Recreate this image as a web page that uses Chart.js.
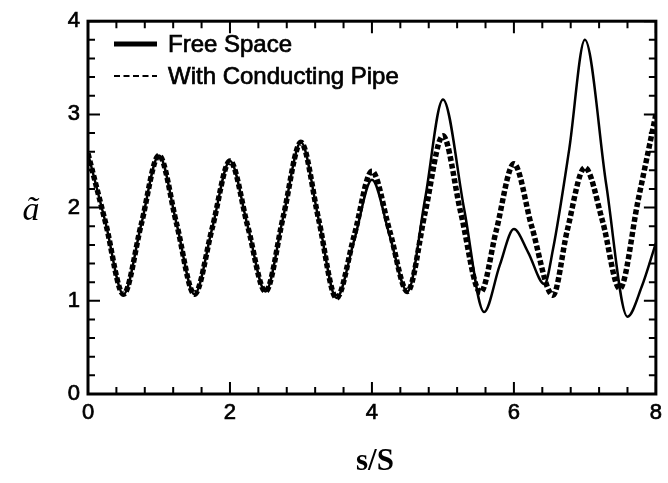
<!DOCTYPE html>
<html>
<head>
<meta charset="utf-8">
<script src="https://cdn.jsdelivr.net/npm/chart.js@4/dist/chart.umd.min.js"></script>
<style>
  html, body { margin: 0; padding: 0; background: #fff; }
  #plot { display: block; }
</style>
</head>
<body>
<canvas id="plot" width="668" height="483"></canvas>
<script>
// Values
const freeSpaceS = [0, 0.25, 0.5, 0.75, 1.0, 1.25, 1.5, 1.75, 2.0, 2.25, 2.5, 2.75, 3.0, 3.25, 3.5, 3.75,
  4.0, 4.25, 4.5, 4.75, 5.0, 5.3, 5.58, 5.8, 6.0, 6.2, 6.43, 6.55, 6.78, 7.0, 7.3, 7.6, 7.8, 8.0];
const freeSpaceA = [2.58, 1.83, 1.07, 1.82, 2.56, 1.82, 1.07, 1.78, 2.50, 1.80, 1.10, 1.90, 2.70, 1.87, 1.03, 1.65,
  2.30, 1.70, 1.10, 2.10, 3.16, 1.98, 0.88, 1.38, 1.77, 1.52, 1.18, 1.55, 2.63, 3.80, 2.25, 0.83, 1.15, 1.62];

const pipeS = [0, 0.25, 0.5, 0.75, 1.0, 1.25, 1.5, 1.75, 2.0, 2.25, 2.5, 2.75, 3.0, 3.25, 3.5, 3.75,
  4.0, 4.25, 4.5, 4.75, 5.0, 5.25, 5.53, 5.75, 6.0, 6.25, 6.55, 6.75, 7.0, 7.25, 7.49, 7.75, 8.0];
const pipeA = [2.58, 1.83, 1.07, 1.82, 2.56, 1.82, 1.07, 1.78, 2.50, 1.80, 1.10, 1.90, 2.70, 1.87, 1.03, 1.70,
  2.39, 1.75, 1.10, 1.95, 2.77, 1.95, 1.09, 1.75, 2.47, 1.80, 1.06, 1.75, 2.43, 1.85, 1.13, 2.08, 3.00];

const xTickLabels = ['0', '2', '4', '6', '8'];
const yTickLabels = ['0', '1', '2', '3', '4'];
const seriesNames = ['Free Space', 'With Conducting Pipe'];

const tickFont = { family: "'Liberation Sans', Arial, sans-serif", size: 22 };

function toPoints(xs, ys) {
  return xs.map((s, i) => ({ x: s, y: ys[i] }));
}

// label only the values listed in the tick label arrays, the rest are minor ticks
function isMajor(value, labels) {
  return labels.some(l => Math.abs(Number(l) - value) < 1e-6);
}

// Inward ticks on all four sides, the frame, the legend and both axis titles
const decorations = {
  id: 'decorations',
  afterDatasetsDraw(chart) {
    const { ctx, chartArea: a, scales: { x, y } } = chart;
    ctx.save();
    ctx.strokeStyle = '#000';
    ctx.lineWidth = 2;
    ctx.beginPath();
    x.ticks.forEach(t => {
      const px = x.getPixelForValue(t.value);
      const len = isMajor(t.value, xTickLabels) ? 12 : 7;
      ctx.moveTo(px, a.bottom); ctx.lineTo(px, a.bottom - len);
      ctx.moveTo(px, a.top); ctx.lineTo(px, a.top + len);
    });
    y.ticks.forEach(t => {
      const py = y.getPixelForValue(t.value);
      const len = isMajor(t.value, yTickLabels) ? 12 : 7;
      ctx.moveTo(a.left, py); ctx.lineTo(a.left + len, py);
      ctx.moveTo(a.right, py); ctx.lineTo(a.right - len, py);
    });
    ctx.stroke();

    ctx.lineWidth = 3;
    ctx.strokeRect(a.left, a.top, a.right - a.left, a.bottom - a.top);

    // legend
    ctx.lineWidth = 5;
    ctx.beginPath(); ctx.moveTo(114, 44); ctx.lineTo(157, 44); ctx.stroke();
    ctx.lineWidth = 2.2;
    ctx.setLineDash([6, 3.5]);
    ctx.beginPath(); ctx.moveTo(114, 76); ctx.lineTo(157, 76); ctx.stroke();
    ctx.setLineDash([]);
    ctx.fillStyle = '#000';
    ctx.lineWidth = 0.7;
    ctx.font = "24px 'Liberation Sans', Arial, sans-serif";
    ctx.textBaseline = 'middle';
    ctx.textAlign = 'left';
    ctx.fillText(seriesNames[0], 168, 45);
    ctx.strokeText(seriesNames[0], 168, 45);
    ctx.fillText(seriesNames[1], 168, 77);
    ctx.strokeText(seriesNames[1], 168, 77);

    // axis titles
    ctx.textAlign = 'center';
    ctx.font = "bold 31px 'Liberation Serif', 'Times New Roman', serif";
    ctx.fillText('s/S', 375, 462);
    ctx.font = "italic 34px 'Liberation Serif', 'Times New Roman', serif";
    ctx.fillText('ã', 31, 211);
    ctx.restore();
  }
};

new Chart(document.getElementById('plot'), {
  type: 'line',
  data: {
    datasets: [
      {
        label: seriesNames[0],
        data: toPoints(freeSpaceS, freeSpaceA),
        borderColor: '#000',
        borderWidth: 2.5,
        pointRadius: 0,
        cubicInterpolationMode: 'monotone',
        fill: false
      },
      {
        label: seriesNames[1],
        data: toPoints(pipeS, pipeA),
        borderColor: '#000',
        borderWidth: 5.5,
        borderDash: [5, 2.5],
        pointRadius: 0,
        cubicInterpolationMode: 'monotone',
        fill: false
      }
    ]
  },
  options: {
    responsive: false,
    devicePixelRatio: 1,
    animation: false,
    layout: { padding: { left: 0, top: 8, right: 3, bottom: 0 } },
    plugins: {
      legend: { display: false },
      tooltip: { enabled: false }
    },
    scales: {
      x: {
        type: 'linear',
        min: 0,
        max: 8,
        grid: { display: false, drawTicks: false },
        border: { display: false },
        ticks: {
          stepSize: 0.4,
          autoSkip: false,
          maxRotation: 0,
          padding: 6,
          color: '#000',
          textStrokeColor: '#000',
          textStrokeWidth: 0.7,
          font: tickFont,
          callback: v => isMajor(v, xTickLabels) ? String(Math.round(v)) : ''
        },
        afterFit: scale => { scale.height = 89; }
      },
      y: {
        min: 0,
        max: 4,
        grid: { display: false, drawTicks: false },
        border: { display: false },
        ticks: {
          stepSize: 0.2,
          autoSkip: false,
          padding: 8,
          color: '#000',
          textStrokeColor: '#000',
          textStrokeWidth: 0.7,
          font: tickFont,
          callback: v => isMajor(v, yTickLabels) ? String(Math.round(v)) : ''
        },
        afterFit: scale => { scale.width = 88; }
      }
    }
  },
  plugins: [decorations]
});
</script>
</body>
</html>
